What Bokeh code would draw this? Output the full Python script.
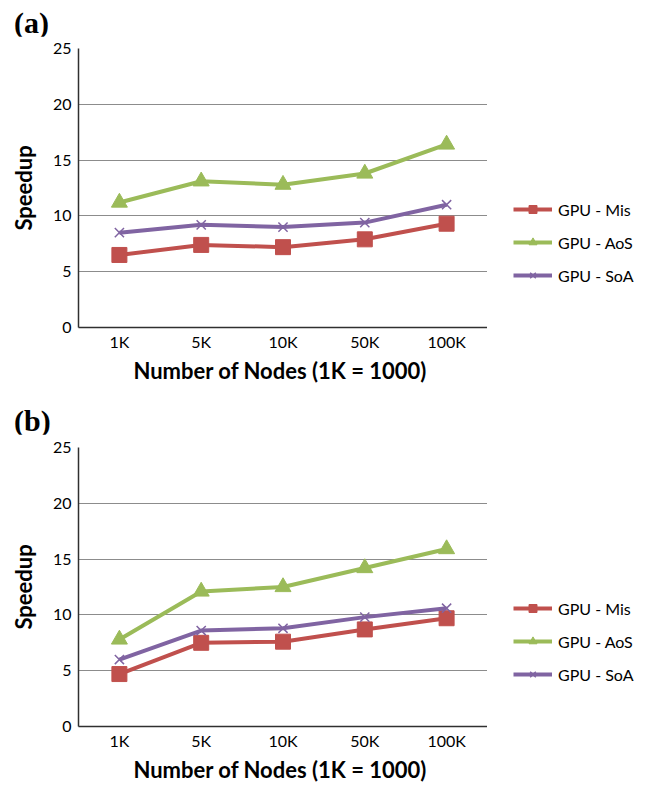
from bokeh.plotting import figure
from bokeh.models import Range1d, Legend, LegendItem, Div
from bokeh.layouts import column, row
from bokeh.embed import file_html
from bokeh.resources import INLINE

categories = ["1K", "5K", "10K", "50K", "100K"]
series_names = ["GPU - Mis", "GPU - AoS", "GPU - SoA"]

a_mis = [6.5, 7.4, 7.2, 7.9, 9.3]
a_aos = [11.2, 13.1, 12.8, 13.8, 16.4]
a_soa = [8.5, 9.2, 9.0, 9.4, 11.0]

b_mis = [4.7, 7.5, 7.6, 8.7, 9.7]
b_aos = [7.8, 12.1, 12.5, 14.2, 15.9]
b_soa = [6.0, 8.6, 8.8, 9.8, 10.6]

y_ticks = [0, 5, 10, 15, 20, 25]

COLORS = ["#C0504D", "#9BBB59", "#8064A2"]
MARKERS = ["square", "triangle", "x"]
FONT = "Lato"
FRAME_H = 280
MAIN_W = 487
LEG_W = 646 - MAIN_W


def add_series(p, xs, ys, col, mk):
    ln = p.line(xs, ys, line_color=col, line_width=4)
    if mk == "x":
        sc = p.scatter(xs, ys, marker=mk, size=13, line_color=col, line_width=1.5)
    elif mk == "triangle":
        sc = p.scatter(xs, ys, marker=mk, size=16, fill_color=col, line_color=col)
    else:
        sc = p.scatter(xs, ys, marker=mk, size=15, fill_color=col, line_color=col)
    return ln, sc


def make_tag(tag, h, pad_top):
    return Div(text=tag, width=646, height=h, margin=0,
               styles={"font-family": "Liberation Serif", "font-weight": "bold",
                       "font-size": "30px", "line-height": "1", "color": "black",
                       "padding-left": "14px", "padding-top": f"{pad_top}px",
                       "box-sizing": "border-box"})


def make_panel(mis, aos, soa, top, bottom):
    p = figure(x_range=categories, y_range=Range1d(0, 25),
               width=MAIN_W, height=top + FRAME_H + bottom,
               output_backend="svg", toolbar_location=None,
               min_border_left=78, min_border_right=0,
               min_border_top=top, min_border_bottom=bottom)
    p.outline_line_color = None
    p.background_fill_color = "white"
    p.xgrid.grid_line_color = None
    p.ygrid.grid_line_color = "#8C8C8C"
    p.ygrid.grid_line_width = 1.2
    p.yaxis.ticker = y_ticks

    for ax in (p.xaxis[0], p.yaxis[0]):
        ax.axis_line_color = "#303030"
        ax.axis_line_width = 1.5
        ax.major_tick_in = 0
        ax.major_tick_out = 0
        ax.minor_tick_in = 0
        ax.minor_tick_out = 0
        ax.major_label_text_font = FONT
        ax.major_label_text_font_size = "16px"
        ax.major_label_text_color = "black"
        ax.axis_label_text_font = FONT
        ax.axis_label_text_font_style = "bold"
        ax.axis_label_text_font_size = "22px"
        ax.axis_label_text_color = "black"
    p.yaxis.major_label_standoff = 7
    p.xaxis.major_label_standoff = 4
    p.yaxis.axis_label = "Speedup"
    p.xaxis.axis_label = "Number of  Nodes (1K = 1000)"
    p.yaxis.axis_label_standoff = 13
    p.xaxis.axis_label_standoff = 3

    for vals, col, mk in zip([mis, aos, soa], COLORS, MARKERS):
        add_series(p, categories, vals, col, mk)

    # legend lives in a narrow companion figure to the right; its copies of
    # the series sit outside that figure's visible y range
    lf = figure(x_range=categories, y_range=Range1d(100, 101),
                width=LEG_W, height=top + FRAME_H + bottom,
                output_backend="svg", toolbar_location=None,
                min_border_left=0, min_border_right=0,
                min_border_top=top, min_border_bottom=bottom)
    lf.outline_line_color = None
    lf.axis.visible = False
    lf.grid.visible = False
    items = []
    for name, vals, col, mk in zip(series_names, [mis, aos, soa], COLORS, MARKERS):
        ln, sc = add_series(lf, categories, vals, col, mk)
        items.append(LegendItem(label=name, renderers=[ln, sc]))
    leg = Legend(items=items, location=(26, 42), orientation="vertical",
                 padding=0, margin=0, spacing=13, glyph_height=20, glyph_width=39,
                 label_height=20, label_standoff=6,
                 label_text_font=FONT, label_text_font_size="16px",
                 label_text_color="black",
                 border_line_color=None, background_fill_alpha=0)
    lf.add_layout(leg, "center")
    return row(p, lf, spacing=0)


tag_a = make_tag("(a)", 36, 8)
ra = make_panel(a_mis, a_aos, a_soa, 12, 58)
tag_b = make_tag("(b)", 48, 20)
rb = make_panel(b_mis, b_aos, b_soa, 13, 58)

layout = column(tag_a, ra, tag_b, rb, spacing=0)
open("out.html", "w").write(file_html(layout, INLINE))
